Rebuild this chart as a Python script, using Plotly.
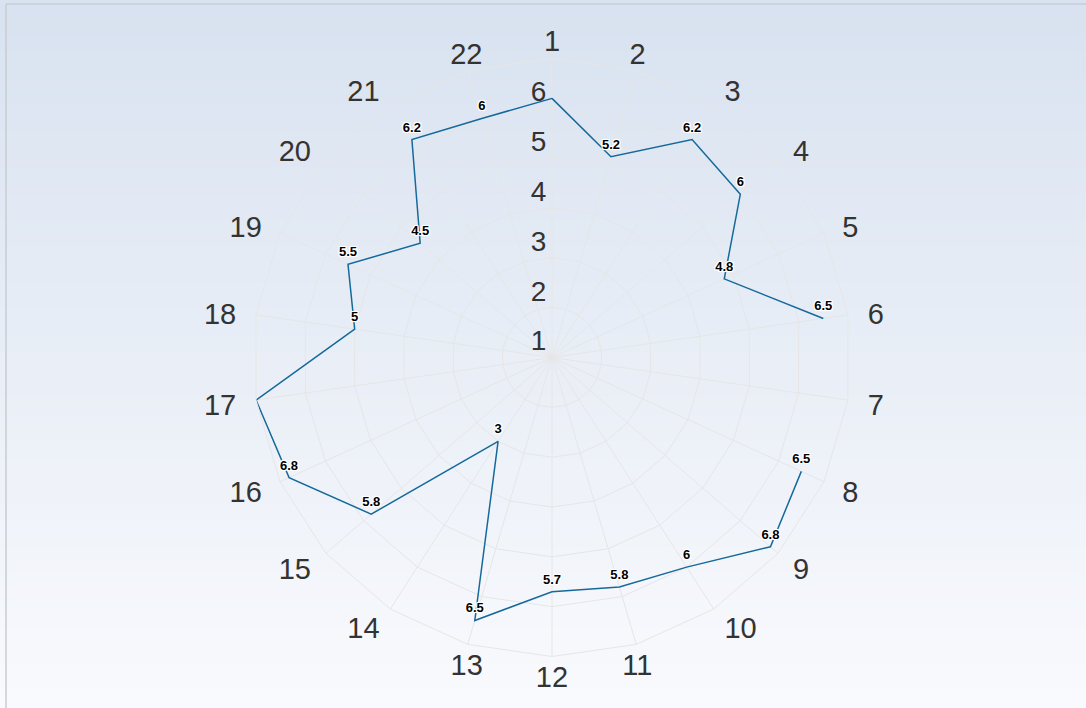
import plotly.graph_objects as go

categories = [str(i) for i in range(1, 23)]
values = [6.2, 5.2, 6.2, 6, 4.8, 6.5, None, 6.5, 6.8, 6, 5.8, 5.7,
          6.5, 3, 5.8, 6.8, 7, 5, 5.5, 4.5, 6.2, 6]
hidden_labels = ["1", "17"]  # data labels not shown in the reference
radial_ticks = [1, 2, 3, 4, 5, 6]
radial_range = [0.999, 7]

W, H = 1086, 708
cx, cy, R = 552, 357.5, 299
R2 = 345          # radius of the overlaid label subplot
label_dy = 5      # label subplot sits slightly lower (Highcharts-like baseline)

line_color = "#15699b"
grid_color = "#e6e6e6"
label_color = "#333333"
font_family = "Liberation Sans, Arial, sans-serif"
halo = ("1px 1px 0 #fff, -1px -1px 0 #fff, 1px -1px 0 #fff, -1px 1px 0 #fff, "
        "0 1px 0 #fff, 0 -1px 0 #fff, 1px 0 0 #fff, -1px 0 0 #fff, 0 0 3px #fff")

fig = go.Figure()

# gradient background
top = (216, 226, 240)
bot = (249, 250, 253)
n = 80
shapes = []
for i in range(n):
    t = i / (n - 1)
    c = tuple(round(top[k] + (bot[k] - top[k]) * t) for k in range(3))
    shapes.append(dict(type="rect", xref="paper", yref="paper", layer="below",
                       x0=0, x1=1, y0=1 - (i + 1) / n, y1=1 - i / n + 0.002,
                       line=dict(width=0), fillcolor="rgb(%d,%d,%d)" % c))
# frame border (top & left)
shapes.append(dict(type="line", xref="paper", yref="paper", layer="below",
                   x0=6 / W, x1=1, y0=1 - 4 / H, y1=1 - 4 / H,
                   line=dict(color="#c8ccd2", width=1.5)))
shapes.append(dict(type="line", xref="paper", yref="paper", layer="below",
                   x0=6 / W, x1=6 / W, y0=0, y1=1 - 4 / H,
                   line=dict(color="#c8ccd2", width=1.5)))

r_closed = values + [values[0]]
theta_closed = categories + [categories[0]]
texts = ["" if (c in hidden_labels or v is None) else f"{v:g}"
         for c, v in zip(categories, values)]
texts_closed = texts + [""]

fig.add_trace(go.Scatterpolar(
    r=r_closed, theta=theta_closed, mode="lines+markers+text",
    text=texts_closed, textposition="top center",
    textfont=dict(family=font_family, size=13, color="#000000", weight="bold",
                  shadow=halo),
    marker=dict(size=6, opacity=0, color=line_color),
    line=dict(color=line_color, width=1.5),
    connectgaps=False, showlegend=False, hoverinfo="r+theta",
))

# radial tick labels drawn along the first spoke
fig.add_trace(go.Scatterpolar(
    r=radial_ticks, theta=[categories[0]] * len(radial_ticks), mode="text",
    text=[str(t) + "\u2009" for t in radial_ticks], textposition="top left",
    textfont=dict(family=font_family, size=28, color=label_color),
    cliponaxis=False, showlegend=False, hoverinfo="skip",
))

# category labels around the outside, on an overlaid (hidden) polar subplot
label_range = [0, 10]
ppu2 = R2 / (label_range[1] - label_range[0])
label_pos, label_r = [], []
for i, c in enumerate(categories):
    a = i * 360 / len(categories)
    if a <= 20 or a >= 340:
        pos, px = "top center", 304
    elif 160 <= a <= 200:
        pos, px = "bottom center", 303
    elif a < 180:
        pos, px = "middle right", 319
    else:
        pos, px = "middle left", 319
    label_pos.append(pos)
    label_r.append(label_range[0] + px / ppu2)

fig.add_trace(go.Scatterpolar(
    r=label_r, theta=categories, mode="text", text=categories,
    textposition=label_pos, subplot="polar2",
    textfont=dict(family=font_family, size=29, color=label_color),
    showlegend=False, hoverinfo="skip",
))

cy2 = cy + label_dy
fig.update_layout(
    width=W, height=H,
    margin=dict(l=0, r=0, t=0, b=0),
    paper_bgcolor="#eef2f9",
    plot_bgcolor="rgba(0,0,0,0)",
    shapes=shapes,
    showlegend=False,
    polar=dict(
        domain=dict(x=[(cx - R) / W, (cx + R) / W],
                    y=[(H - cy - R) / H, (H - cy + R) / H]),
        bgcolor="rgba(0,0,0,0)",
        gridshape="linear",
        radialaxis=dict(range=radial_range, tickvals=[1, 2, 3, 4, 5, 6, 7],
                        showticklabels=False, ticks="", showline=False,
                        gridcolor=grid_color, gridwidth=1, angle=90),
        angularaxis=dict(type="category", categoryarray=categories,
                         direction="clockwise", rotation=90,
                         showline=True, linecolor=grid_color, linewidth=1,
                         gridcolor=grid_color, gridwidth=1,
                         ticks="", showticklabels=False),
    ),
    polar2=dict(
        domain=dict(x=[(cx - R2) / W, (cx + R2) / W],
                    y=[(H - cy2 - R2) / H, (H - cy2 + R2) / H]),
        bgcolor="rgba(0,0,0,0)",
        radialaxis=dict(range=label_range, visible=False),
        angularaxis=dict(type="category", categoryarray=categories,
                         direction="clockwise", rotation=90, visible=False),
    ),
)

fig.write_html("out.html", config={"displayModeBar": False},
               post_script="document.body.style.margin='0';"
                           "document.body.style.background='#f4f6fb';")
